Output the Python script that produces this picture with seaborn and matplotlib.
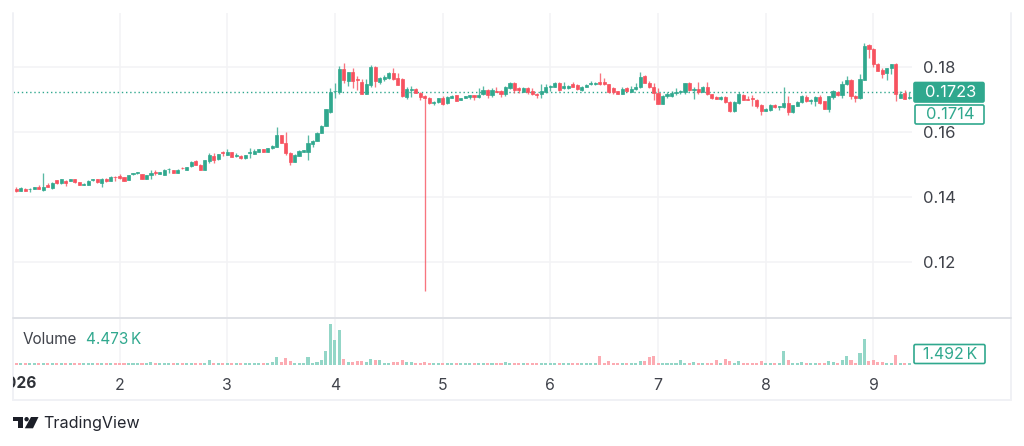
import numpy as np
import pandas as pd
import matplotlib
matplotlib.use("Agg")
import matplotlib.pyplot as plt
from matplotlib.patches import Polygon, Circle, FancyBboxPatch
from matplotlib.transforms import Bbox, TransformedBbox
import seaborn as sns

# Hourly OHLC candles, grouped in tens
opens = [
    .1426, .1420, .1426, .1424, .1426, .1430, .1421, .1436, .1427, .1452,
    .1443, .1450, .1449, .1454, .1445, .1437, .1437, .1451, .1454, .1443,
    .1457, .1450, .1463, .1465, .1461, .1452, .1470, .1473, .1470, .1456,
    .1467, .1476, .1472, .1468, .1485, .1483, .1475, .1490, .1483, .1494,
    .1511, .1500, .1483, .1512, .1526, .1516, .1537, .1529, .1538, .1525,
    .1527, .1519, .1536, .1532, .1539, .1548, .1540, .1550, .1555, .1591,
    .1565, .1536, .1509, .1527, .1538, .1539, .1563, .1573, .1598, .1619,
    .1662, .1725, .1724, .1794, .1757, .1784, .1763, .1755, .1717, .1745,
    .1801, .1755, .1763, .1765, .1781, .1765, .1762, .1709, .1728, .1732,
    .1721, .1712, .1706, .1688, .1691, .1705, .1688, .1705, .1713, .1698,
    .1705, .1709, .1714, .1709, .1716, .1729, .1714, .1727, .1726, .1716,
    .1734, .1752, .1734, .1724, .1736, .1726, .1717, .1716, .1722, .1739,
    .1738, .1752, .1734, .1734, .1747, .1745, .1729, .1739, .1748, .1749,
    .1753, .1755, .1747, .1734, .1726, .1718, .1735, .1724, .1731, .1737,
    .1773, .1752, .1737, .1719, .1686, .1710, .1710, .1721, .1722, .1724,
    .1751, .1728, .1732, .1724, .1739, .1717, .1707, .1701, .1709, .1693,
    .1664, .1689, .1714, .1702, .1704, .1698, .1684, .1666, .1667, .1683,
    .1676, .1677, .1689, .1660, .1681, .1691, .1709, .1695, .1696, .1709,
    .1695, .1671, .1709, .1723, .1714, .1747, .1760, .1712, .1704, .1760,
    .1868, .1855, .1809, .1791, .1781, .1796, .1809, .1706, .1719, .1704,
    .1714,
]
closes = [
    .1419, .1428, .1420, .1426, .1430, .1426, .1431, .1431, .1444, .1442,
    .1454, .1442, .1456, .1445, .1437, .1441, .1450, .1456, .1445, .1455,
    .1449, .1461, .1461, .1460, .1450, .1467, .1473, .1476, .1456, .1467,
    .1474, .1474, .1476, .1483, .1487, .1475, .1484, .1488, .1491, .1509,
    .1498, .1483, .1514, .1529, .1514, .1532, .1534, .1539, .1524, .1530,
    .1519, .1528, .1540, .1542, .1548, .1540, .1551, .1557, .1591, .1567,
    .1535, .1509, .1529, .1542, .1544, .1565, .1573, .1598, .1619, .1671,
    .1724, .1727, .1794, .1760, .1784, .1757, .1759, .1717, .1747, .1801,
    .1757, .1767, .1770, .1781, .1762, .1745, .1711, .1731, .1731, .1721,
    .1709, .1704, .1688, .1693, .1704, .1685, .1709, .1711, .1696, .1704,
    .1710, .1714, .1709, .1714, .1729, .1714, .1729, .1724, .1717, .1737,
    .1752, .1729, .1729, .1736, .1724, .1716, .1715, .1726, .1737, .1743,
    .1752, .1729, .1742, .1743, .1739, .1731, .1739, .1746, .1752, .1752,
    .1748, .1747, .1724, .1724, .1718, .1732, .1726, .1732, .1739, .1770,
    .1752, .1737, .1719, .1686, .1712, .1716, .1720, .1724, .1726, .1750,
    .1729, .1732, .1724, .1738, .1716, .1704, .1701, .1708, .1691, .1664,
    .1693, .1716, .1699, .1699, .1701, .1681, .1666, .1671, .1683, .1676,
    .1679, .1689, .1660, .1683, .1693, .1711, .1694, .1699, .1709, .1688,
    .1671, .1711, .1726, .1714, .1748, .1760, .1711, .1704, .1762, .1865,
    .1855, .1809, .1789, .1778, .1796, .1809, .1716, .1716, .1701, .1708,
    .1723,
]
highs = [
    .1430, .1432, .1428, .1427, .1431, .1436, .1474, .1442, .1446, .1453,
    .1456, .1452, .1457, .1455, .1446, .1443, .1451, .1457, .1455, .1458,
    .1459, .1464, .1465, .1470, .1463, .1468, .1474, .1477, .1472, .1469,
    .1483, .1482, .1477, .1485, .1488, .1484, .1486, .1491, .1492, .1510,
    .1514, .1501, .1515, .1536, .1535, .1533, .1542, .1548, .1540, .1534,
    .1528, .1529, .1552, .1548, .1549, .1549, .1552, .1561, .1616, .1592,
    .1601, .1538, .1531, .1544, .1546, .1591, .1575, .1600, .1621, .1672,
    .1735, .1750, .1804, .1811, .1785, .1798, .1771, .1763, .1763, .1806,
    .1804, .1768, .1775, .1785, .1798, .1781, .1767, .1739, .1742, .1734,
    .1722, .1714, .1707, .1695, .1705, .1712, .1710, .1713, .1714, .1705,
    .1711, .1715, .1715, .1734, .1742, .1731, .1735, .1739, .1728, .1742,
    .1754, .1754, .1737, .1738, .1737, .1735, .1720, .1747, .1747, .1744,
    .1754, .1754, .1755, .1745, .1755, .1747, .1740, .1747, .1758, .1755,
    .1782, .1765, .1748, .1739, .1727, .1739, .1739, .1742, .1750, .1784,
    .1775, .1757, .1750, .1735, .1713, .1724, .1725, .1735, .1728, .1752,
    .1753, .1739, .1753, .1740, .1753, .1718, .1712, .1710, .1710, .1694,
    .1695, .1724, .1716, .1712, .1714, .1700, .1686, .1673, .1685, .1685,
    .1681, .1738, .1712, .1684, .1695, .1714, .1714, .1701, .1711, .1714,
    .1696, .1712, .1728, .1725, .1757, .1771, .1762, .1714, .1777, .1873,
    .1872, .1857, .1811, .1798, .1797, .1810, .1811, .1727, .1730, .1723,
    .1724,
]
lows = [
    .1417, .1418, .1419, .1415, .1425, .1425, .1420, .1430, .1426, .1441,
    .1441, .1435, .1448, .1444, .1436, .1436, .1436, .1450, .1444, .1431,
    .1447, .1449, .1450, .1455, .1449, .1451, .1469, .1472, .1455, .1454,
    .1457, .1468, .1470, .1467, .1475, .1474, .1474, .1487, .1482, .1493,
    .1497, .1482, .1482, .1505, .1505, .1515, .1525, .1528, .1523, .1524,
    .1518, .1518, .1521, .1531, .1538, .1539, .1539, .1549, .1553, .1566,
    .1528, .1498, .1508, .1526, .1537, .1514, .1555, .1572, .1597, .1617,
    .1658, .1705, .1717, .1751, .1742, .1735, .1729, .1716, .1716, .1739,
    .1738, .1747, .1757, .1763, .1760, .1744, .1708, .1701, .1709, .1720,
    .1698, .1110, .1687, .1683, .1690, .1684, .1687, .1704, .1695, .1697,
    .1704, .1700, .1698, .1704, .1715, .1706, .1707, .1722, .1709, .1711,
    .1733, .1721, .1720, .1722, .1717, .1715, .1704, .1704, .1721, .1725,
    .1737, .1727, .1733, .1733, .1737, .1730, .1725, .1738, .1744, .1745,
    .1745, .1745, .1720, .1716, .1717, .1717, .1724, .1722, .1730, .1735,
    .1750, .1735, .1698, .1685, .1685, .1704, .1708, .1714, .1718, .1716,
    .1727, .1701, .1716, .1722, .1715, .1703, .1700, .1699, .1690, .1663,
    .1663, .1687, .1698, .1697, .1681, .1675, .1652, .1664, .1666, .1674,
    .1668, .1675, .1652, .1659, .1680, .1690, .1692, .1686, .1679, .1686,
    .1670, .1663, .1703, .1712, .1706, .1745, .1703, .1692, .1702, .1759,
    .1827, .1801, .1787, .1767, .1760, .1778, .1695, .1705, .1700, .1700,
    .1712,
]
# Traded volume per candle, in thousands
volumes = [
    .15, .15, .15, .15, .15, .15, .15, .15, .15, .15,
    .15, .15, .15, .15, .15, .15, .15, .15, .15, .15,
    .15, .15, .15, .15, .15, .15, .15, .15, .15, .15,
    .40, .15, .15, .15, .15, .15, .15, .15, .15, .15,
    .15, .15, .15, .60, .15, .15, .22, .15, .15, .15,
    .15, .15, .15, .15, .15, .15, .15, .30, 1.19, .40,
    .94, .45, .15, .15, .15, 1.09, .15, .34, .60, 1.99,
    6.07, 3.73, 5.18, .75, .40, .30, .55, .49, .37, .75,
    .70, .70, .15, .15, .37, .37, .60, .37, .30, .15,
    .15, .30, .15, .15, .15, .15, .15, .15, .15, .15,
    .15, .15, .15, .15, .15, .22, .22, .15, .15, .37,
    .15, .15, .15, .15, .15, .15, .15, .15, .15, .15,
    .15, .15, .15, .15, .15, .15, .15, .15, .15, .15,
    1.34, .15, .55, .15, .15, .15, .15, .15, .15, .55,
    .45, 1.19, 1.24, .15, .15, .15, .15, .15, .64, .22,
    .15, .37, .15, .15, .15, .15, .70, .15, .75, .45,
    .15, .45, .15, .15, .15, .15, .45, .15, .15, .15,
    .15, 1.99, .64, .15, .15, .40, .15, .15, .15, .15,
    .15, .45, .30, .15, .64, 1.34, .64, .22, 1.75, 3.84,
    .45, .67, .30, .37, .15, .15, 1.45, .15, .15, .15,
    1.492,
]
day_ticks = [2, 3, 4, 5, 6, 7, 8, 9]
price_ticks = [0.12, 0.14, 0.16, 0.18]
year_label = "2026"
last_price = 0.1723
reference_price = 0.1714
last_volume = "1.492\u2009K"
legend_volume = "4.473\u2009K"

GREEN = "#30a88e"
RED = "#f7525f"
GREEN_SOFT = "#93d6c7"
RED_SOFT = "#fcabb2"
GRID = "#f3f3f5"
FRAME = "#f0f1f5"
TEXT = "#40434b"

sns.set_theme(style="white")
plt.rcParams["font.family"] = ["Inter", "DejaVu Sans"]

W, H = 1024, 446
fig = plt.figure(figsize=(W / 100, H / 100), dpi=100, facecolor="white")


def pane(left, top, right, bottom):
    return fig.add_axes([left / W, 1 - bottom / H, (right - left) / W, (bottom - top) / H])


frame = pd.DataFrame({
    "day": 1 + np.arange(1, len(opens) + 1) / 24,
    "open": opens, "close": closes, "high": highs, "low": lows, "volume": volumes,
})
frame["direction"] = np.where(frame["close"] >= frame["open"], "up", "down")
x_range = (1.0108, 9.358)

# Price pane
ax = pane(13, 13, 912, 318)
for direction, color in (("up", GREEN), ("down", RED)):
    part = frame[frame["direction"] == direction]
    ax.vlines(part["day"], part["low"], part["high"], color=color, lw=0.95, alpha=0.8, zorder=3)
    ax.bar(part["day"], part["close"] - part["open"], bottom=part["open"], width=0.029,
           color=color, edgecolor=color, linewidth=0.5, zorder=4)
ax.axhline(last_price, color=GREEN, lw=1.0, ls=(0, (1, 2)), zorder=2)
ax.set_xlim(*x_range)
ax.set_ylim(0.1028, 0.1966)
ax.set_xticks(day_ticks)
ax.set_yticks(price_ticks, [f"{p:.2f}" for p in price_ticks])
ax.yaxis.tick_right()
ax.tick_params(axis="y", length=0, pad=8.2, labelsize=12, labelcolor=TEXT)
ax.tick_params(axis="x", length=0, labelbottom=False)
ax.grid(True, color=GRID, lw=1.1)
ax.set_axisbelow(True)
sns.despine(ax=ax, left=True, bottom=True, right=True, top=True)

# Volume pane
ax_vol = pane(13, 319, 912, 364.5)
sns.barplot(data=frame, x="day", y="volume", hue="direction",
            palette={"up": GREEN_SOFT, "down": RED_SOFT}, native_scale=True, dodge=False,
            width=0.68, saturation=1, errorbar=None, legend=False, linewidth=0,
            ax=ax_vol, zorder=3)
ax_vol.set_xlim(*x_range)
ax_vol.set_ylim(0, 45.5 / 6.7)
ax_vol.set_xticks(day_ticks, [str(d) for d in day_ticks])
ax_vol.set_yticks([])
ax_vol.set_xlabel("")
ax_vol.set_ylabel("")
ax_vol.tick_params(axis="x", length=0, pad=10, labelsize=11.4, labelcolor=TEXT)
ax_vol.grid(True, axis="x", color=GRID, lw=1.1)
ax_vol.set_axisbelow(True)
sns.despine(ax=ax_vol, left=True, bottom=True, right=True, top=True)

# Pixel-space overlay for the frame, price tags, legend and logo
over = fig.add_axes([0, 0, 1, 1], zorder=10)
over.set_xlim(0, W)
over.set_ylim(H, 0)
over.axis("off")
over.patch.set_alpha(0)

over.plot([12.5, 12.5], [13, 400], color=FRAME, lw=1.4)
over.plot([1011, 1011], [13, 400], color=FRAME, lw=1.4)
over.plot([12.5, 1011], [400, 400], color=FRAME, lw=1.4)
over.plot([12.5, 1011], [318.3, 318.3], color="#dfe1e6", lw=1.4)


def tag(x0, y0, x1, y1, text, filled, size):
    over.add_patch(FancyBboxPatch((x0 + 1, y0 + 1), x1 - x0 - 2, y1 - y0 - 2,
                                  boxstyle="round,pad=0,rounding_size=1.5",
                                  mutation_aspect=1, lw=1.2, edgecolor=GREEN,
                                  facecolor=GREEN if filled else "white", zorder=5))
    over.text(950.5, (y0 + y1) / 2 + 0.3, text, ha="center", va="center", fontsize=size,
              color="white" if filled else GREEN, zorder=6)


tag(913, 81.5, 985, 103, f"{last_price:.4f}", True, 11.9)
tag(914, 104, 985, 125, f"{reference_price:.4f}", False, 11.9)
tag(913, 343.5, 986, 364.5, last_volume, False, 11.4)

over.text(23, 339.5, "Volume", ha="left", va="center", fontsize=11, color=TEXT)
over.text(86.5, 339.5, legend_volume, ha="left", va="center", fontsize=11, color=GREEN)

year = over.text(36.8, 384, year_label, ha="right", va="center", fontsize=11.2,
                 fontweight="bold", color="#2f3238")
year.set_clip_box(TransformedBbox(Bbox([[13, 0], [W, H]]), over.transData))
year.set_clip_on(True)

LOGO = "#1b1e27"
over.add_patch(Polygon([(13, 417), (22.5, 417), (22.5, 428.3), (17.5, 428.3), (17.5, 421.3), (13, 421.3)],
                       closed=True, color=LOGO, lw=0))
over.add_patch(Circle((26.6, 419.2), 2.2, color=LOGO, lw=0))
over.add_patch(Polygon([(31, 417), (38.5, 417), (33, 428.3), (24.8, 428.3)], closed=True, color=LOGO, lw=0))
over.text(43, 423.5, "TradingView", ha="left", va="center", fontsize=11.6, color="#23262f")

fig.savefig("out.png", dpi=100, facecolor="white")
